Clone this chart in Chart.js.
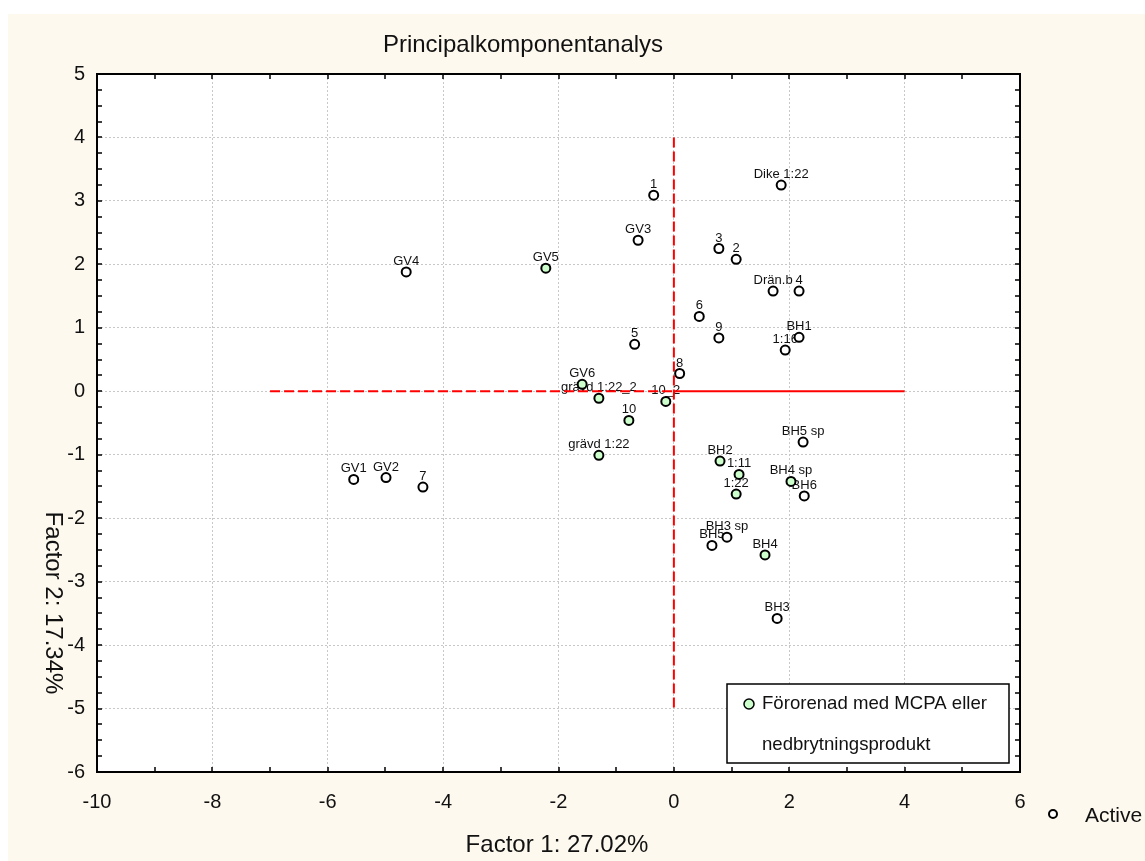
<!DOCTYPE html>
<html>
<head>
<meta charset="utf-8">
<script src="https://cdn.jsdelivr.net/npm/chart.js@4.4.0/dist/chart.umd.min.js"></script>
<style>
    html, body { margin: 0; padding: 0; background: #ffffff; }
    #wrap { width: 1145px; height: 861px; }
</style>
</head>
<body>
<div id="wrap"><canvas id="grafico" width="1145" height="861"></canvas></div>
<script>
// Öppna punkter ("Active")
const etiquetasActive = ['Dike 1:22', '1', 'GV3', 'GV4', '3', '2', 'Drän.b', '4', '6', '9', 'BH1', '1:16', '5', '8',
    'BH5 sp', 'BH6', 'BH3 sp', 'BH5', 'BH3', 'GV1', 'GV2', '7'];
const xActive = [1.86, -0.35, -0.62, -4.64, 0.78, 1.08, 1.72, 2.17, 0.44, 0.78, 2.17, 1.93, -0.68, 0.10,
    2.24, 2.26, 0.92, 0.66, 1.79, -5.55, -4.99, -4.35];
const yActive = [3.25, 3.09, 2.38, 1.88, 2.25, 2.08, 1.58, 1.58, 1.18, 0.84, 0.85, 0.65, 0.74, 0.28,
    -0.80, -1.65, -2.30, -2.43, -3.58, -1.39, -1.36, -1.51];

// Gröna punkter (förorenade)
const etiquetasMcpa = ['GV5', 'GV6', 'grävd 1:22_2', '10_2', '10', 'grävd 1:22', 'BH2', '1:11', '1:22', 'BH4 sp', 'BH4'];
const xMcpa = [-2.22, -1.59, -1.30, -0.14, -0.78, -1.30, 0.80, 1.13, 1.08, 2.03, 1.58];
const yMcpa = [1.94, 0.11, -0.11, -0.16, -0.46, -1.01, -1.10, -1.31, -1.62, -1.42, -2.58];

// Röda referenslinjer
const linjeStreckadX = [-7, 0];
const linjeStreckadY = [0, 0];
const linjeHelX = [0, 4];
const linjeHelY = [0, 0];
const linjeVertikalX = [0, 0];
const linjeVertikalY = [4, -5];

const ticksX = [-10, -8, -6, -4, -2, 0, 2, 4, 6];
const ticksY = [-6, -5, -4, -3, -2, -1, 0, 1, 2, 3, 4, 5];

const titulo = 'Principalkomponentanalys';
const tituloX = 'Factor 1: 27.02%';
const tituloY = 'Factor 2: 17.34%';
const legendaMcpa = ['Förorenad med MCPA eller', 'nedbrytningsprodukt'];
const legendaActive = 'Active';

const fonte = "'Liberation Sans', Arial, sans-serif";

function montarPontos(listaX, listaY) {
    return listaX.map((valor, i) => ({ x: valor, y: listaY[i] }));
}

const pluginFundo = {
    id: 'fundo',
    beforeDraw(chart) {
        const ctx = chart.ctx;
        const area = chart.chartArea;
        ctx.save();
        ctx.fillStyle = '#ffffff';
        ctx.fillRect(0, 0, chart.width, chart.height);
        ctx.fillStyle = '#fdf9ee';
        ctx.fillRect(8, 14, chart.width - 8, chart.height - 14);
        ctx.fillStyle = '#ffffff';
        ctx.fillRect(area.left, area.top, area.right - area.left, area.bottom - area.top);
        ctx.restore();
    }
};

const pluginEtiquetas = {
    id: 'etiquetas',
    beforeDatasetsDraw(chart) {
        const ctx = chart.ctx;
        ctx.save();
        ctx.font = '13px ' + fonte;
        ctx.fillStyle = '#111111';
        ctx.textAlign = 'center';
        ctx.textBaseline = 'alphabetic';
        const grupos = [[0, etiquetasActive], [1, etiquetasMcpa]];
        grupos.forEach(([indice, nomes]) => {
            const meta = chart.getDatasetMeta(indice);
            meta.data.forEach((ponto, i) => {
                ctx.fillText(nomes[i], ponto.x, ponto.y - 7);
            });
        });
        ctx.restore();
    }
};

const pluginMoldura = {
    id: 'moldura',
    afterDraw(chart) {
        const ctx = chart.ctx;
        const area = chart.chartArea;
        const sx = chart.scales.x;
        const sy = chart.scales.y;
        ctx.save();

        // ticks menores para dentro
        ctx.strokeStyle = '#000000';
        ctx.lineWidth = 1.5;
        ctx.beginPath();
        for (let v = -10; v <= 6; v++) {
            const px = Math.round(sx.getPixelForValue(v));
            ctx.moveTo(px, area.top); ctx.lineTo(px, area.top + 5);
            ctx.moveTo(px, area.bottom); ctx.lineTo(px, area.bottom - 5);
        }
        for (let k = -24; k <= 20; k++) {
            const py = Math.round(sy.getPixelForValue(k / 4));
            ctx.moveTo(area.left, py); ctx.lineTo(area.left + 5, py);
            ctx.moveTo(area.right, py); ctx.lineTo(area.right - 5, py);
        }
        ctx.stroke();

        ctx.lineWidth = 2;
        ctx.strokeRect(area.left, area.top, area.right - area.left, area.bottom - area.top);

        // títulos
        ctx.fillStyle = '#111111';
        ctx.textAlign = 'center';
        ctx.textBaseline = 'alphabetic';
        ctx.font = '24px ' + fonte;
        ctx.fillText(titulo, 523, 52);
        ctx.font = '24px ' + fonte;
        ctx.fillText(tituloX, 557, 852);

        ctx.save();
        ctx.translate(53, 603);
        ctx.rotate(Math.PI / 2);
        ctx.textBaseline = 'middle';
        ctx.fillText(tituloY, 0, 0);
        ctx.restore();

        // legenda interna
        ctx.fillStyle = '#ffffff';
        ctx.fillRect(727, 684, 282, 79);
        ctx.strokeStyle = '#000000';
        ctx.lineWidth = 1.5;
        ctx.strokeRect(727, 684, 282, 79);
        ctx.beginPath();
        ctx.arc(749, 704, 5, 0, Math.PI * 2);
        ctx.fillStyle = '#ccffcc';
        ctx.fill();
        ctx.stroke();
        ctx.fillStyle = '#111111';
        ctx.textAlign = 'left';
        ctx.textBaseline = 'middle';
        ctx.font = '18.6px ' + fonte;
        ctx.fillText(legendaMcpa[0], 762, 704);
        ctx.fillText(legendaMcpa[1], 762, 745);

        // legenda externa
        ctx.beginPath();
        ctx.arc(1053, 814, 4, 0, Math.PI * 2);
        ctx.lineWidth = 2;
        ctx.fillStyle = '#ffffff';
        ctx.fill();
        ctx.stroke();
        ctx.fillStyle = '#111111';
        ctx.font = '21px ' + fonte;
        ctx.fillText(legendaActive, 1085, 816);

        ctx.restore();
    }
};

const contexto = document.getElementById('grafico').getContext('2d');

new Chart(contexto, {
    type: 'scatter',
    data: {
        datasets: [
            {
                label: legendaActive,
                data: montarPontos(xActive, yActive),
                pointRadius: 4.5,
                pointHoverRadius: 4.5,
                borderWidth: 2,
                borderColor: '#000000',
                backgroundColor: '#ffffff',
                order: 0
            },
            {
                label: legendaMcpa.join(' '),
                data: montarPontos(xMcpa, yMcpa),
                pointRadius: 4.5,
                pointHoverRadius: 4.5,
                borderWidth: 2,
                borderColor: '#000000',
                backgroundColor: '#ccffcc',
                order: 0
            },
            {
                data: montarPontos(linjeStreckadX, linjeStreckadY),
                showLine: true,
                pointRadius: 0,
                borderColor: '#ff0000',
                borderWidth: 2,
                borderDash: [10, 4],
                order: 2
            },
            {
                data: montarPontos(linjeHelX, linjeHelY),
                showLine: true,
                pointRadius: 0,
                borderColor: '#ff0000',
                borderWidth: 2,
                order: 2
            },
            {
                data: montarPontos(linjeVertikalX, linjeVertikalY),
                showLine: true,
                pointRadius: 0,
                borderColor: '#ff0000',
                borderWidth: 2,
                borderDash: [10, 4],
                order: 2
            }
        ]
    },
    options: {
        responsive: false,
        animation: false,
        events: [],
        layout: {
            padding: { left: 37, right: 125, top: 74, bottom: 39 }
        },
        scales: {
            x: {
                type: 'linear',
                min: -10,
                max: 6,
                afterFit: (escala) => { escala.height = 50; },
                afterBuildTicks: (escala) => { escala.ticks = ticksX.map((v) => ({ value: v })); },
                ticks: {
                    color: '#111111',
                    font: { family: fonte, size: 20 },
                    padding: 18,
                    autoSkip: false,
                    maxRotation: 0
                },
                grid: { color: '#c8c8c8', lineWidth: 1, drawTicks: false },
                border: { display: false, dash: [2, 2] }
            },
            y: {
                type: 'linear',
                min: -6,
                max: 5,
                afterFit: (escala) => { escala.width = 60; },
                afterBuildTicks: (escala) => { escala.ticks = ticksY.map((v) => ({ value: v })); },
                ticks: {
                    color: '#111111',
                    font: { family: fonte, size: 20 },
                    padding: 12,
                    autoSkip: false
                },
                grid: { color: '#c8c8c8', lineWidth: 1, drawTicks: false },
                border: { display: false, dash: [2, 2] }
            }
        },
        plugins: {
            legend: { display: false },
            title: { display: false },
            tooltip: { enabled: false }
        }
    },
    plugins: [pluginFundo, pluginEtiquetas, pluginMoldura]
});
</script>
</body>
</html>
